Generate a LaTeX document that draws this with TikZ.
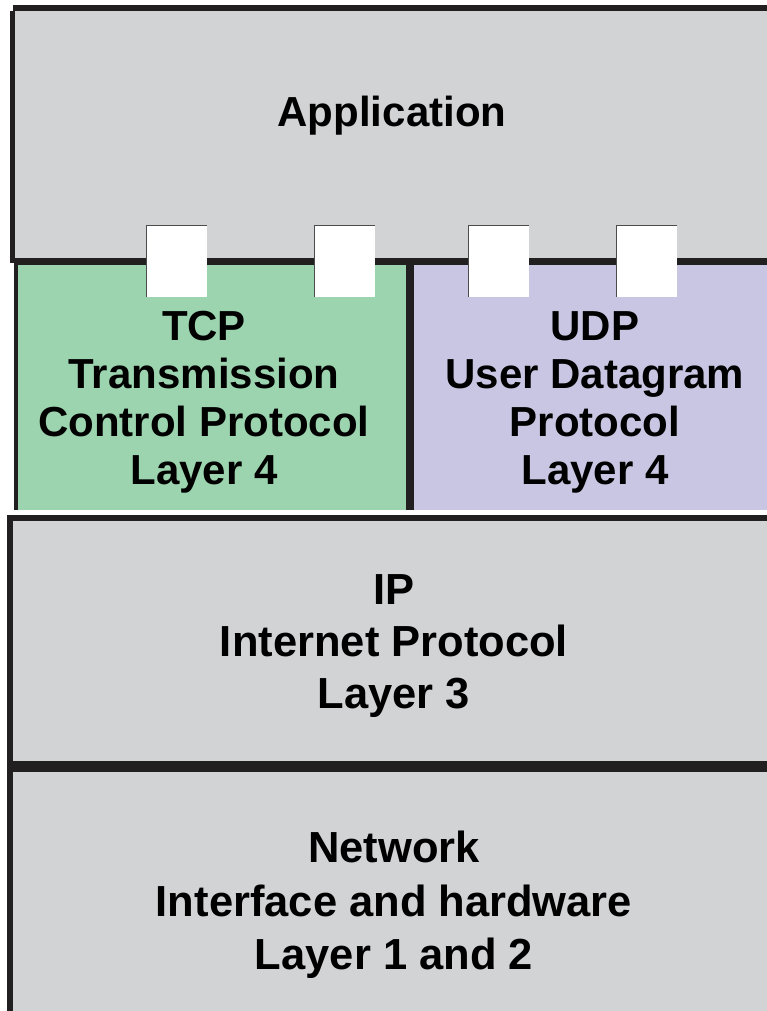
\documentclass[tikz,border=0pt]{standalone}
\usepackage{fontspec}
\setmainfont{Liberation Sans}
\definecolor{boxgray}{HTML}{D2D3D5}
\definecolor{tcpgreen}{HTML}{9BD4AE}
\definecolor{udppurple}{HTML}{C8C6E2}
\definecolor{edge}{HTML}{221F20}
\tikzset{
  lbl/.style={align=center, inner sep=0pt, font=\bfseries\fontsize{42}{48}\selectfont},
  lblbig/.style={align=center, inner sep=0pt, font=\bfseries\fontsize{43.5}{52}\selectfont},
  lblnet/.style={align=center, inner sep=0pt, font=\bfseries\fontsize{43.5}{53.5}\selectfont},
  border/.style={draw=edge, line cap=butt},
  sapedge/.style={draw=gray!60!black, line width=1pt},
}
\begin{document}
\begin{tikzpicture}[x=1pt,y=-1pt]
\useasboundingbox (0,0) rectangle (767,1011);
% fills
\fill[boxgray] (15,11) rectangle (767,258);
\fill[tcpgreen] (18,262) rectangle (406,510);
\fill[udppurple] (414,262) rectangle (767,510);
\fill[boxgray] (13,521) rectangle (767,761);
\fill[boxgray] (13,772) rectangle (767,1011);
% application borders
\draw[border, line width=6pt] (13,8) -- (767,8);
\draw[border, line width=5pt] (12.5,11) -- (12.5,263);
% TCP/UDP borders
\draw[border, line width=7pt] (14,261.5) -- (767,261.5);
\draw[border, line width=4pt] (16,265) -- (16,510);
\draw[border, line width=8pt] (410,265) -- (410,510);
% IP borders
\draw[border, line width=6pt] (10,518) -- (767,518);
\draw[border, line width=6pt] (10,515) -- (10,1011);
% IP / Network divider
\draw[border, line width=11pt] (10,766.5) -- (767,766.5);
% service access points
\foreach \x in {146,314,468,616}{
  \fill[white] (\x,225) rectangle ++(61,72);
  \draw[sapedge] (\x,297) -- (\x,225) -- ++(61,0);
}
% labels
\node[lbl] (app) at (392,116) {Application};
\node[lbl] (tcp) at (204,402) {TCP\\Transmission\\Control Protocol\\Layer 4};
\node[lbl] (udp) at (595,402) {UDP\\User Datagram\\Protocol\\Layer 4};
\node[lblbig] (ip) at (394,646) {IP\\Internet Protocol\\Layer 3};
\node[lblnet] (net) at (394,905) {Network\\Interface and hardware\\Layer 1 and 2};
\end{tikzpicture}
\end{document}
